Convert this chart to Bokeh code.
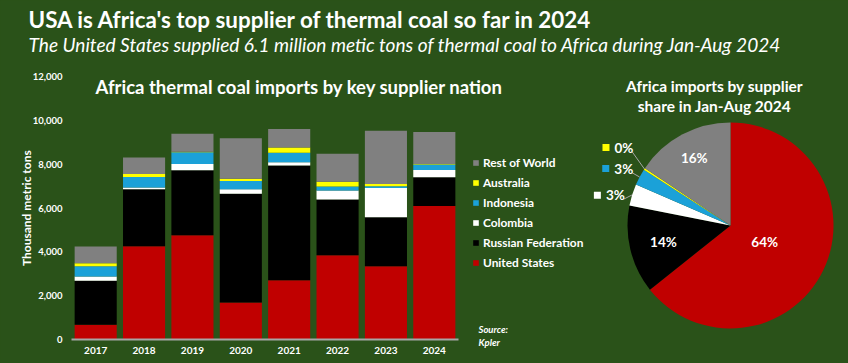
import math
from bokeh.plotting import figure
from bokeh.models import (Range1d, Label, Legend, LegendItem,
                          ColumnDataSource, FixedTicker, NumeralTickFormatter)
from bokeh.core.properties import value
from bokeh.embed import file_html
from bokeh.resources import INLINE

# ---------------- data ----------------
years = ["2017", "2018", "2019", "2020", "2021", "2022", "2023", "2024"]
united_states = [670, 4260, 4760, 1690, 2700, 3840, 3340, 6090]
russian_federation = [2010, 2600, 2960, 4960, 5240, 2550, 2240, 1310]
colombia = [190, 80, 290, 200, 150, 410, 1330, 335]
indonesia = [470, 470, 535, 380, 430, 180, 80, 245]
australia = [140, 140, 20, 110, 240, 220, 100, 30]
rest_of_world = [760, 750, 820, 1845, 840, 1280, 2430, 1460]

series_keys = ["united_states", "russian_federation", "colombia",
               "indonesia", "australia", "rest_of_world"]
series_names = ["United States", "Russian Federation", "Colombia",
                "Indonesia", "Australia", "Rest of World"]
y_ticks = [0, 2000, 4000, 6000, 8000, 10000, 12000]

# Jan-Aug 2024 share (%) in the same supplier order
pie_share = [64.3, 13.8, 3.4, 2.6, 0.3, 15.6]

# ---------------- style / geometry ----------------
BG = "#2a5219"
COLORS = ["#c00000", "#000000", "#ffffff", "#1ba1d8", "#ffff00", "#808080"]
FONT = "Lato"

W, H = 848, 363            # whole canvas is the frame (axes use fixed locations)
BAR_LEFT = 71              # px where the first year slot starts
PITCH = 48.375             # px per year slot
ZERO_Y = 339               # px (from top) of value 0
TOP_Y = 76                 # px (from top) of value 12000
YMAX = 12000
PIE_CX, PIE_CY, R = 730, 225, 103   # px from top-left

px_per_val = (ZERO_Y - TOP_Y) / YMAX

p = figure(width=W, height=H, output_backend="svg", toolbar_location=None, title=None,
           x_range=Range1d(-0.5 - BAR_LEFT / PITCH, -0.5 + (W - BAR_LEFT) / PITCH),
           y_range=Range1d(-(H - ZERO_Y) / px_per_val, YMAX + TOP_Y / px_per_val),
           background_fill_color=BG, border_fill_color=BG, outline_line_color=None,
           min_border=0)
p.extra_x_ranges = {"pie": Range1d(-PIE_CX, W - PIE_CX)}
p.extra_y_ranges = {"pie": Range1d(-(H - PIE_CY), PIE_CY)}
p.grid.visible = False

def slabel(text, x, y_from_top, size, style="bold", align="left", baseline="alphabetic", angle=0):
    p.add_layout(Label(x=x, y=H - y_from_top, x_units="screen", y_units="screen",
                       text=text, text_font=FONT, text_font_style=style,
                       text_font_size=size, text_color="white", angle=angle,
                       text_align=align, text_baseline=baseline))

# ---------------- titles ----------------
slabel("USA is Africa's top supplier of thermal coal so far in 2024", 28, 18.5, "22.4px")
slabel("The United States supplied 6.1 million metic tons of thermal coal to Africa during Jan-Aug 2024",
       28, 43.5, "19.1px", style="italic")
slabel("Africa thermal coal imports by key supplier nation", 95, 86, "18.5px")
slabel("Africa imports by supplier", 714, 85.5, "15.5px", align="center")
slabel("share in Jan-Aug 2024", 714, 105.5, "15.5px", align="center")

# ---------------- stacked bars ----------------
xpos = list(range(len(years)))
src = ColumnDataSource(dict(x=xpos, united_states=united_states,
                            russian_federation=russian_federation, colombia=colombia,
                            indonesia=indonesia, australia=australia,
                            rest_of_world=rest_of_world))
rends = p.vbar_stack(series_keys, x="x", width=0.87, fill_color=COLORS,
                     line_color=None, source=src)

ya = p.yaxis[0]
ya.fixed_location = -0.5
ya.ticker = FixedTicker(ticks=y_ticks)
ya.formatter = NumeralTickFormatter(format="0,0")
ya.bounds = (0, YMAX)
ya.axis_line_color = None
ya.major_tick_line_color = None
ya.major_tick_out = 0
ya.major_tick_in = 0
ya.minor_tick_line_color = None
ya.major_label_text_color = "white"
ya.major_label_text_font = FONT
ya.major_label_text_font_style = "bold"
ya.major_label_text_font_size = "9.5px"
ya.major_label_standoff = 9

slabel("Thousand metric tons", 26, 207.7, "12px", align="center", angle=math.pi / 2)

xa = p.xaxis[0]
xa.fixed_location = 0
xa.ticker = FixedTicker(ticks=xpos)
xa.major_label_overrides = {i: y for i, y in zip(xpos, years)}
xa.bounds = (-0.5, len(years) - 0.5)
xa.axis_line_color = "#a6a6a6"
xa.axis_line_width = 2
xa.major_tick_line_color = None
xa.major_tick_out = 0
xa.major_tick_in = 0
xa.minor_tick_line_color = None
xa.major_label_text_color = "white"
xa.major_label_text_font = FONT
xa.major_label_text_font_style = "bold"
xa.major_label_text_font_size = "10px"
xa.major_label_standoff = 7

legend = Legend(items=[LegendItem(label=series_names[i], renderers=[rends[i]])
                       for i in reversed(range(len(series_names)))],
                location=(472, H - 270), orientation="vertical",
                label_text_font=FONT, label_text_font_style="bold",
                label_text_font_size="11.9px", label_text_color="white",
                glyph_width=7, glyph_height=7, label_standoff=4,
                label_height=14, spacing=5, padding=0, margin=0,
                border_line_color=None, background_fill_alpha=0)
p.add_layout(legend)

slabel("Source:", 478, 329.3, "9.5px", style="bold italic", baseline="middle")
slabel("Kpler", 478, 341.7, "9.5px", style="bold italic", baseline="middle")

# ---------------- pie ----------------
total = sum(pie_share)
starts, ends, mids = [], [], []
cum = 0.0
for s in pie_share:
    a0 = math.pi / 2 - 2 * math.pi * cum / total
    cum += s
    a1 = math.pi / 2 - 2 * math.pi * cum / total
    starts.append(a0)
    ends.append(a1)
    mids.append((a0 + a1) / 2)

pie_kw = dict(x_range_name="pie", y_range_name="pie")
pie_src = ColumnDataSource(dict(start=starts, end=ends, color=COLORS))
p.wedge(x=0, y=0, radius=R, start_angle="start", end_angle="end", direction="clock",
        fill_color="color", line_color=None, source=pie_src, **pie_kw)

# label placement (style): radius and angular nudge per slice
label_r = [38, 69, 119, 121, 132, 77]
label_nudge = [0, 0, 2.6, 0, -2.9, 0]
outside = [False, False, True, True, True, False]

labels = ["%d%%" % round(s) for s in pie_share]
in_x, in_y, in_t = [], [], []
out_x, out_y, out_t, out_c = [], [], [], []
lead_x0, lead_y0, lead_x1, lead_y1 = [], [], [], []
for i, m in enumerate(mids):
    a = m + math.radians(label_nudge[i])
    lx, ly = label_r[i] * math.cos(a), label_r[i] * math.sin(a)
    if outside[i]:
        out_x.append(lx); out_y.append(ly); out_t.append(labels[i]); out_c.append(COLORS[i])
        lead_x0.append(lx + 8); lead_y0.append(ly - 4)
        lead_x1.append(R * math.cos(m)); lead_y1.append(R * math.sin(m))
    else:
        in_x.append(lx); in_y.append(ly); in_t.append(labels[i])

p.segment(x0=lead_x0, y0=lead_y0, x1=lead_x1, y1=lead_y1,
          line_color="#a6a6a6", line_width=1, **pie_kw)
p.text(x=in_x, y=in_y, text=in_t, text_font=value(FONT), text_font_style="bold",
       text_font_size="13.5px", text_color="white", text_align="center",
       text_baseline="middle", **pie_kw)
p.text(x=out_x, y=out_y, text=out_t, text_font=value(FONT), text_font_style="bold",
       text_font_size="13.5px", text_color="white", text_align="center",
       text_baseline="middle", **pie_kw)
p.scatter(x=[x - 18 for x in out_x], y=out_y, marker="square", size=7,
          fill_color=out_c, line_color=None, **pie_kw)

html = file_html(p, INLINE, title="Africa thermal coal imports")
html = html.replace("</head>", "<style>body{background-color:%s;}</style></head>" % BG, 1)
open("out.html", "w").write(html)
